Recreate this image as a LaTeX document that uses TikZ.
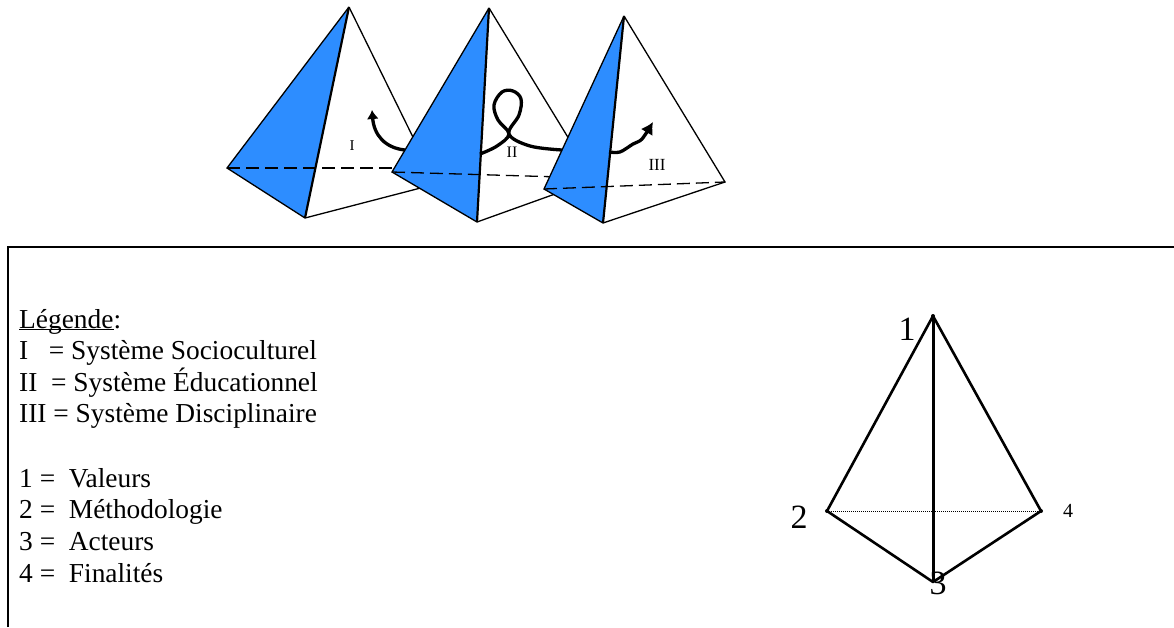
\documentclass[tikz,border=0pt]{standalone}
\usepackage{fontspec}
\setmainfont{Liberation Serif}
\usetikzlibrary{arrows.meta}
\definecolor{faceblue}{RGB}{45,141,255}
\tikzset{
    edge/.style={line width=1.3pt},
    front/.style={line width=2.2pt},
    hidden/.style={line width=1.3pt, dash pattern=on 13pt off 6pt},
    path/.style={line width=3.3pt, line join=round},
    legend/.style={anchor=base west, inner sep=0pt, font=\fontsize{27.4}{32}\selectfont},
    vertex/.style={font=\fontsize{34}{40}\selectfont, inner sep=0pt}
}
\begin{document}
\begin{tikzpicture}[x=1pt, y=-1pt]
    \useasboundingbox (0,0) rectangle (1174,627);

    % premiere pyramide
    \coordinate (A1) at (349,7);
    \coordinate (B1) at (227,168);
    \coordinate (C1) at (305,218);
    \coordinate (D1) at (436,184);
    \coordinate (E1) at (420,168);
    \fill[faceblue] (A1) -- (B1) -- (C1) -- cycle;
    \draw[edge] (A1) -- (B1) -- (C1) -- (D1) -- (A1);
    \draw[front] (A1) -- (C1);
    \draw[hidden] (B1) -- (E1);

    % deuxieme pyramide
    \coordinate (A2) at (489,8);
    \coordinate (B2) at (392,172);
    \coordinate (C2) at (477,222);
    \coordinate (D2) at (594,180);
    \coordinate (E2) at (560,177);
    \fill[faceblue] (A2) -- (B2) -- (C2) -- cycle;
    \draw[edge] (A2) -- (B2) -- (C2) -- (D2) -- (A2);
    \draw[front] (A2) -- (C2);
    \draw[hidden] (B2) -- (E2);

    % troisieme pyramide
    \coordinate (A3) at (624,16);
    \coordinate (B3) at (544,189);
    \coordinate (C3) at (603,223);
    \coordinate (D3) at (725,182);
    \fill[faceblue] (A3) -- (B3) -- (C3) -- cycle;
    \draw[edge] (A3) -- (B3) -- (C3) -- (D3) -- (A3);
    \draw[front] (A3) -- (C3);
    \draw[hidden] (B3) -- (D3);

    % parcours
    \coordinate (P1) at (405,150);
    \coordinate (P2) at (372,110);
    \coordinate (P3) at (480,154);
    \coordinate (P4) at (562,150);
    \coordinate (P5) at (609,152);
    \coordinate (P6) at (653,122);
    \draw[path, -{Latex[length=9pt, width=12pt]}] (P1) .. controls (385,148) and (374,135) .. (P2);
    \draw[path] plot[smooth, tension=0.6] coordinates {(P3) (497,146) (509,134) (498,120) (494,105) (502,92) (513,91) (521,99) (519,115) (509,134) (530,146) (P4)};
    \draw[path, -{Latex[length=12pt, width=14pt]}] plot[smooth, tension=0.5] coordinates {(P5) (620,152) (633,144) (642,139) (P6)};

    % numeros des pyramides
    \node[font=\fontsize{15}{17}\selectfont, inner sep=0pt] (n1) at (352,146) {I};
    \node[font=\fontsize{16}{18}\selectfont, inner sep=0pt] (n2) at (512,152) {II};
    \node[font=\fontsize{17}{19}\selectfont, inner sep=0pt] (n3) at (657,165) {III};

    % cadre
    \coordinate (F1) at (8,627);
    \coordinate (F2) at (8,247);
    \coordinate (F3) at (1174,247);
    \draw[line width=2.2pt] (F1) -- (F2) -- (F3);

    % legende
    \node[legend] (t0) at (19,328) {\underline{\smash{Légende}}:};
    \node[legend] (t1) at (19,359) {I\ \ \ = Système Socioculturel};
    \node[legend] (t2) at (19,391) {II\ \ = Système Éducationnel};
    \node[legend] (t3) at (19,422) {III = Système Disciplinaire};
    \node[legend] (t4) at (19,487) {1 =\ \ Valeurs};
    \node[legend] (t5) at (19,518) {2 =\ \ Méthodologie};
    \node[legend] (t6) at (19,550) {3 =\ \ Acteurs};
    \node[legend] (t7) at (19,582) {4 =\ \ Finalités};

    % tetraedre
    \coordinate (S1) at (933,316);
    \coordinate (S2) at (827,511);
    \coordinate (S3) at (933,582);
    \coordinate (S4) at (1041,511);
    \draw[line width=2.6pt, line join=round] (S2) -- (S1) -- (S4) -- (S3) -- cycle;
    \draw[line width=3pt] (S1) -- (S3);
    \draw[line width=1pt, densely dotted] (S2) -- (S4);
    \fill (S1) circle (2pt);
    \fill (S2) circle (2pt);
    \fill (S4) circle (2pt);
    \node[vertex] (v1) at (907,329) {1};
    \node[vertex] (v2) at (799,517) {2};
    \node[vertex] (v3) at (938,583) {3};
    \node[font=\fontsize{20}{23}\selectfont, inner sep=0pt] (v4) at (1068,511) {4};
\end{tikzpicture}
\end{document}
